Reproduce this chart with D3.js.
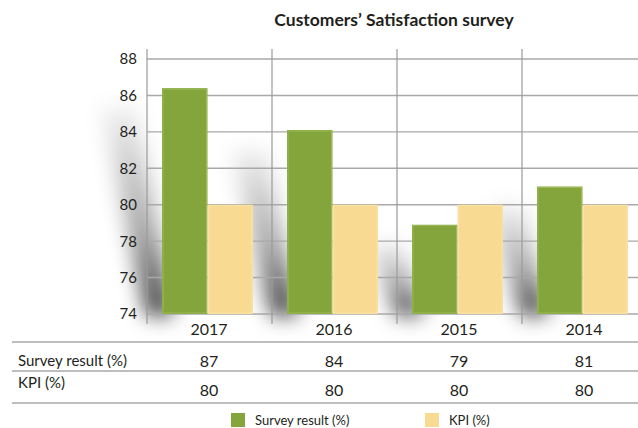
<!DOCTYPE html>
<html lang="en">
<head>
  <meta charset="UTF-8" />
  <title>Customers' Satisfaction survey</title>
  <script src="https://cdn.jsdelivr.net/npm/d3@7"></script>
  <style>
    body { margin: 0; background: #fff; }
    text { font-family: "Lato", "Noto Sans", sans-serif; fill: #231f20; }
  </style>
</head>
<body>
  <div id="chart"></div>
  <script>
    // chart values
    var years = ["2017", "2016", "2015", "2014"];
    var surveyBars = [86.4, 84.1, 78.9, 81.0];
    var kpiBars = [80, 80, 80, 80];
    var surveyTable = [87, 84, 79, 81];
    var kpiTable = [80, 80, 80, 80];
    var yTicks = [74, 76, 78, 80, 82, 84, 86, 88];
    var seriesNames = ["Survey result (%)", "KPI (%)"];
    var seriesColors = ["#83a53b", "#f8da93"];

    var W = 638, H = 428;

    var svg = d3.select("#chart").append("svg")
      .attr("width", W)
      .attr("height", H);

    var defs = svg.append("defs");
    var blur = defs.append("filter").attr("id", "soft")
      .attr("x", "-100%").attr("y", "-50%").attr("width", "300%").attr("height", "200%");
    blur.append("feGaussianBlur").attr("stdDeviation", 10);

    var grad = defs.append("linearGradient").attr("id", "shade")
      .attr("x1", 0).attr("y1", 0).attr("x2", 0).attr("y2", 1);
    grad.append("stop").attr("offset", "0%").attr("stop-color", "#000").attr("stop-opacity", 0.05);
    grad.append("stop").attr("offset", "60%").attr("stop-color", "#000").attr("stop-opacity", 0.35);
    grad.append("stop").attr("offset", "100%").attr("stop-color", "#000").attr("stop-opacity", 0.75);

    // scales
    var x0 = d3.scaleBand().domain(years).range([147, 147 + 125 * years.length]);
    var x1 = d3.scaleBand().domain([0, 1]).range([15, 106]);
    var y = d3.scaleLinear().domain([74, 88]).range([314, 59]);

    // title
    svg.append("text")
      .attr("x", 394).attr("y", 26)
      .attr("text-anchor", "middle")
      .attr("font-size", "17.5px")
      .attr("font-weight", "bold")
      .text("Customers\u2019 Satisfaction survey");

    // shadows behind survey bars
    svg.append("g").attr("filter", "url(#soft)")
      .selectAll("polygon")
      .data(surveyBars)
      .enter()
      .append("polygon")
      .attr("fill", "url(#shade)")
      .attr("points", function(d, i) {
        var gx = x0(years[i]) + x1(0);
        var top = y(d), bot = y(74);
        var lean = (bot - top) * 0.12;
        return [
          [gx - 16, bot + 2], [gx + 12, bot + 2],
          [gx - lean + 2, top + 18], [gx - lean - 34, top + 18]
        ].join(" ");
      });

    // horizontal grid
    svg.append("g").selectAll("line")
      .data(yTicks)
      .enter()
      .append("line")
      .attr("x1", 147).attr("x2", W)
      .attr("y1", function(d) { return y(d); })
      .attr("y2", function(d) { return y(d); })
      .attr("stroke", "#a9a9a9")
      .attr("stroke-width", 1.4);

    // vertical dividers
    svg.append("g").selectAll("line")
      .data(years)
      .enter()
      .append("line")
      .attr("x1", function(d) { return x0(d); })
      .attr("x2", function(d) { return x0(d); })
      .attr("y1", 49).attr("y2", 324)
      .attr("stroke", "#9a9a9a")
      .attr("stroke-width", 1.2);

    // y tick labels
    svg.append("g").selectAll("text")
      .data(yTicks)
      .enter()
      .append("text")
      .attr("x", 137)
      .attr("y", function(d) { return y(d); })
      .attr("dy", "0.36em")
      .attr("text-anchor", "end")
      .attr("font-size", "15px")
      .text(function(d) { return d; });

    // bars
    var seriesData = [surveyBars, kpiBars];
    seriesData.forEach(function(vals, s) {
      var g = svg.append("g");
      g.selectAll("rect")
        .data(vals)
        .enter()
        .append("rect")
        .attr("x", function(d, i) { return x0(years[i]) + x1(s); })
        .attr("width", x1.bandwidth())
        .attr("y", function(d) { return y(d); })
        .attr("height", function(d) { return y(74) - y(d); })
        .attr("fill", seriesColors[s]);
      // light inner bevel
      g.selectAll("rect.edge")
        .data(vals)
        .enter()
        .append("rect")
        .attr("class", "edge")
        .attr("x", function(d, i) { return x0(years[i]) + x1(s) + 1; })
        .attr("width", x1.bandwidth() - 2)
        .attr("y", function(d) { return y(d) + 1; })
        .attr("height", function(d) { return y(74) - y(d) - 2; })
        .attr("fill", "none")
        .attr("stroke", s === 0 ? "#a2c05f" : "#fbe4ad")
        .attr("stroke-width", 0.8);
    });

    // year labels
    svg.append("g").selectAll("text")
      .data(years)
      .enter()
      .append("text")
      .attr("x", function(d) { return x0(d) + 62; })
      .attr("y", 335)
      .attr("text-anchor", "middle")
      .attr("font-size", "16px")
      .text(function(d) { return d; });

    // table lines
    svg.append("g").selectAll("line")
      .data([342, 371, 403])
      .enter()
      .append("line")
      .attr("x1", 12).attr("x2", W)
      .attr("y1", function(d) { return d; })
      .attr("y2", function(d) { return d; })
      .attr("stroke", "#a9a9a9")
      .attr("stroke-width", 1.4);

    // table rows
    svg.append("text").attr("x", 18).attr("y", 366)
      .attr("font-size", "15px").text(seriesNames[0]);
    svg.append("text").attr("x", 18).attr("y", 388)
      .attr("font-size", "15px").text(seriesNames[1]);

    svg.append("g").selectAll("text")
      .data(surveyTable)
      .enter()
      .append("text")
      .attr("x", function(d, i) { return x0(years[i]) + 62; })
      .attr("y", 367)
      .attr("text-anchor", "middle")
      .attr("font-size", "16px")
      .text(function(d) { return d; });

    svg.append("g").selectAll("text")
      .data(kpiTable)
      .enter()
      .append("text")
      .attr("x", function(d, i) { return x0(years[i]) + 62; })
      .attr("y", 396)
      .attr("text-anchor", "middle")
      .attr("font-size", "16px")
      .text(function(d) { return d; });

    // legend
    var legX = [231, 425];
    var legend = svg.append("g");
    legend.selectAll("rect")
      .data(seriesNames)
      .enter()
      .append("rect")
      .attr("x", function(d, i) { return legX[i]; })
      .attr("y", 413)
      .attr("width", 14).attr("height", 14)
      .attr("fill", function(d, i) { return seriesColors[i]; });
    legend.selectAll("text")
      .data(seriesNames)
      .enter()
      .append("text")
      .attr("x", function(d, i) { return legX[i] + 24; })
      .attr("y", 425)
      .attr("font-size", "13px")
      .text(function(d) { return d; });
  </script>
</body>
</html>
